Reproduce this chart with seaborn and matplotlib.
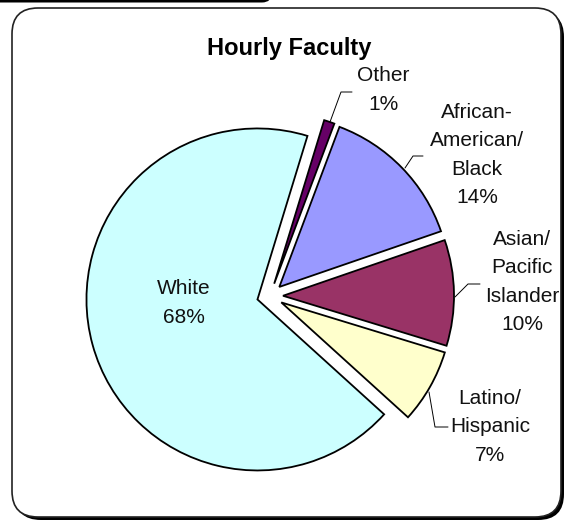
import matplotlib
matplotlib.use("Agg")
import matplotlib.pyplot as plt
from matplotlib.patches import FancyBboxPatch
import seaborn as sns

# --- data ---
groups = ["Other", "African-\nAmerican/\nBlack", "Asian/\nPacific\nIslander",
          "Latino/\nHispanic", "White"]
shares = [1, 14, 10, 7, 68]
colors = ["#660066", "#9999FF", "#993366", "#FFFFCC", "#CCFFFF"]
title = "Hourly Faculty"

# --- layout (pixel space of a 568x522 image) ---
W, H = 568, 522
cx, cy, R = 270, 296, 171
label_pos = [(383, 90), (477, 155), (522, 282), (490, 427), (184, 303)]
leaders = [
    [(330, 122), (341, 92), (352, 92)],
    [(405, 168), (413, 156), (423, 156)],
    [(455, 297), (468, 284), (480, 284)],
    [(429, 392), (435, 427), (448, 427)],
    None,
]

sns.set_theme(style="white")
plt.rcParams["font.family"] = ["Liberation Sans", "DejaVu Sans"]

fig = plt.figure(figsize=(W / 100, H / 100), dpi=100)

# background frame
bg = fig.add_axes([0, 0, 1, 1])
bg.set_xlim(0, W)
bg.set_ylim(H, 0)
bg.axis("off")
bg.add_patch(FancyBboxPatch((-40, -40), 312, 42.5,
                            boxstyle="round,pad=0,rounding_size=10",
                            fc="black", ec="black", lw=0))
bg.add_patch(FancyBboxPatch((15, 11), 549, 509,
                            boxstyle="round,pad=0,rounding_size=26",
                            fc="black", ec="black", lw=0))
bg.add_patch(FancyBboxPatch((12, 8), 549, 509,
                            boxstyle="round,pad=0,rounding_size=26",
                            fc="white", ec="#222222", lw=1.2))

# pie in unit coordinates
ax = fig.add_axes([0, 0, 1, 1])
ax.patch.set_alpha(0)
ax.pie(shares, colors=colors, startangle=73, counterclock=False,
       explode=[13 / R] * len(shares),
       wedgeprops=dict(edgecolor="black", linewidth=1.3))
ax.set_xlim(-cx / R, (W - cx) / R)
ax.set_ylim((cy - H) / R, cy / R)
ax.set_aspect("equal")
ax.axis("off")

# labels, title and leader lines
top = fig.add_axes([0, 0, 1, 1])
top.patch.set_alpha(0)
top.set_xlim(0, W)
top.set_ylim(H, 0)
top.axis("off")
top.text(289, 48, title, ha="center", va="center", fontsize=17,
         fontweight="bold", color="black")
for name, val, (x, y), pts in zip(groups, shares, label_pos, leaders):
    top.text(x, y, f"{name}\n{val}%", ha="center", va="center",
             fontsize=15, linespacing=1.63, color="#111111")
    if pts:
        top.plot([p[0] for p in pts], [p[1] for p in pts],
                 color="black", lw=0.7)

fig.savefig("out.png", dpi=100)
